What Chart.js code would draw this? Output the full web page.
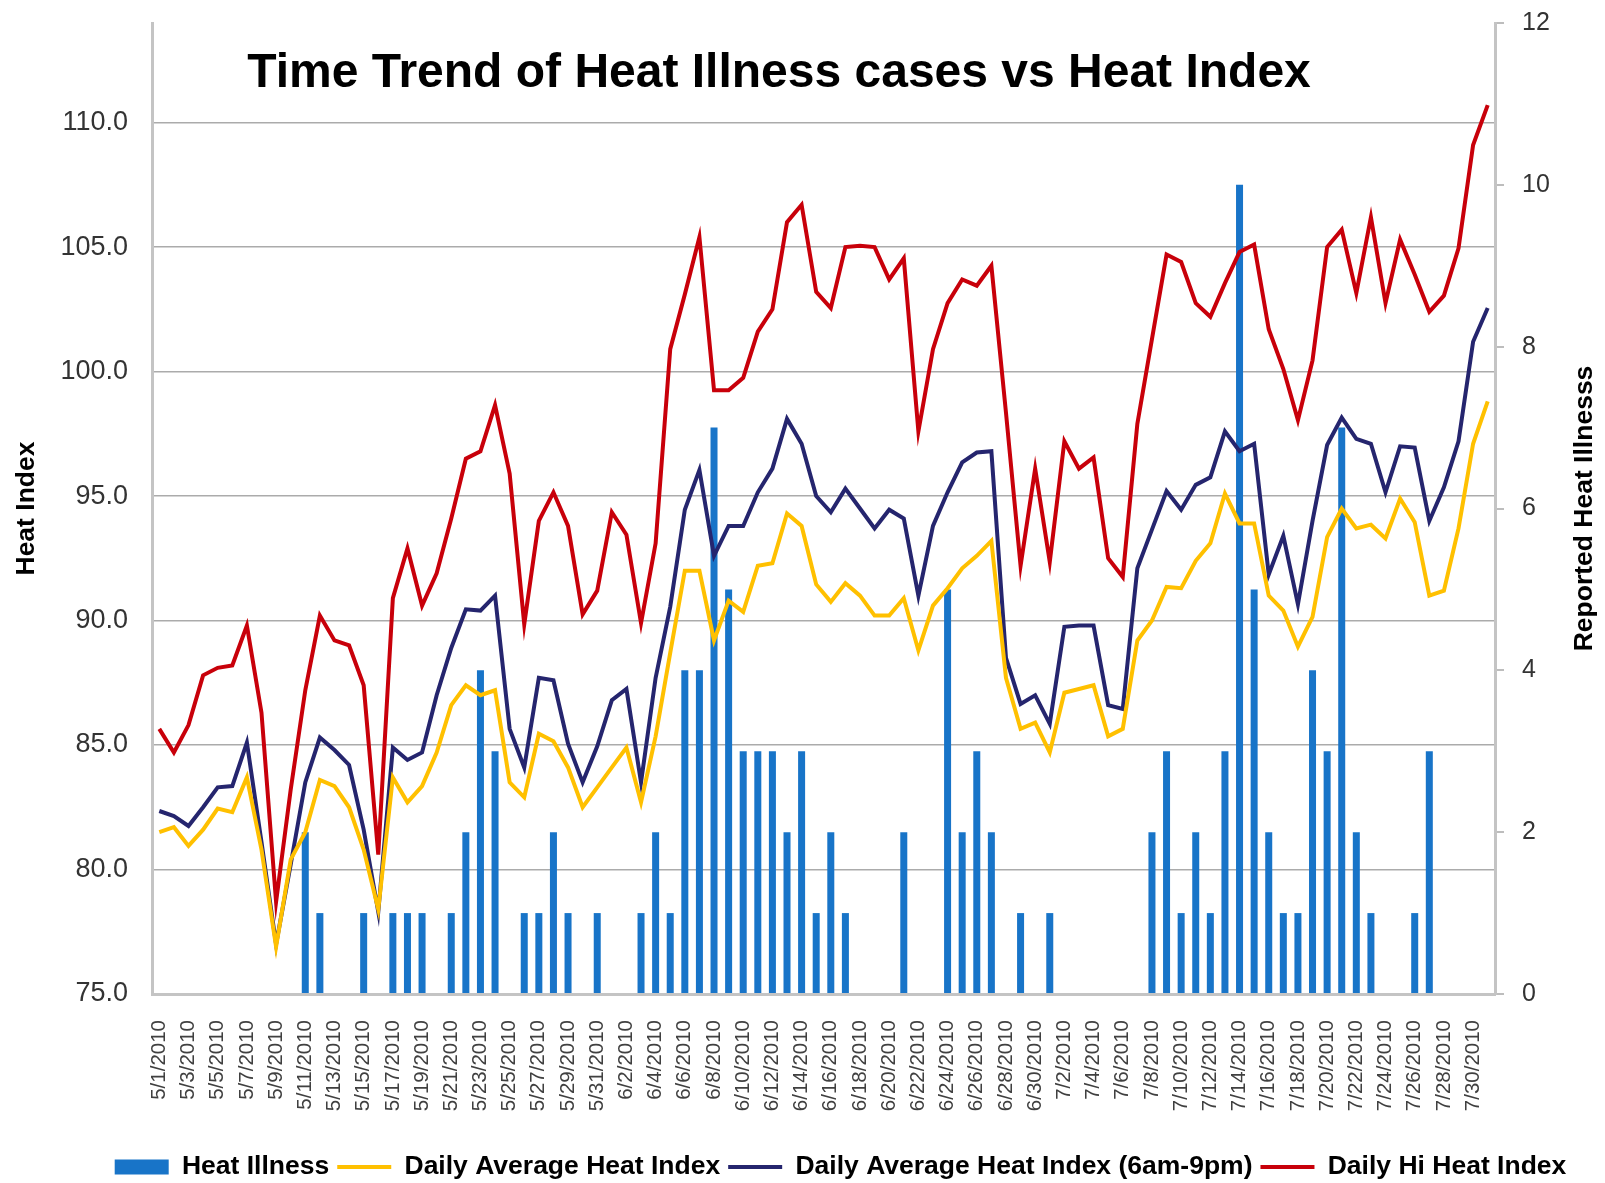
<!DOCTYPE html>
<html>
<head>
<meta charset="utf-8">
<script src="https://cdn.jsdelivr.net/npm/chart.js@4.4.1/dist/chart.umd.min.js"></script>
<style>
html,body{margin:0;padding:0;background:#fff;}
#wrap{width:1605px;height:1183px;position:relative;}
</style>
</head>
<body>
<div id="wrap"><canvas id="c" width="1605" height="1183"></canvas></div>
<script>
// ---------- data ----------
const dates = [
'5/1/2010','5/2/2010','5/3/2010','5/4/2010','5/5/2010','5/6/2010','5/7/2010','5/8/2010','5/9/2010','5/10/2010',
'5/11/2010','5/12/2010','5/13/2010','5/14/2010','5/15/2010','5/16/2010','5/17/2010','5/18/2010','5/19/2010','5/20/2010',
'5/21/2010','5/22/2010','5/23/2010','5/24/2010','5/25/2010','5/26/2010','5/27/2010','5/28/2010','5/29/2010','5/30/2010',
'5/31/2010','6/1/2010','6/2/2010','6/3/2010','6/4/2010','6/5/2010','6/6/2010','6/7/2010','6/8/2010','6/9/2010',
'6/10/2010','6/11/2010','6/12/2010','6/13/2010','6/14/2010','6/15/2010','6/16/2010','6/17/2010','6/18/2010','6/19/2010',
'6/20/2010','6/21/2010','6/22/2010','6/23/2010','6/24/2010','6/25/2010','6/26/2010','6/27/2010','6/28/2010','6/29/2010',
'6/30/2010','7/1/2010','7/2/2010','7/3/2010','7/4/2010','7/5/2010','7/6/2010','7/7/2010','7/8/2010','7/9/2010',
'7/10/2010','7/11/2010','7/12/2010','7/13/2010','7/14/2010','7/15/2010','7/16/2010','7/17/2010','7/18/2010','7/19/2010',
'7/20/2010','7/21/2010','7/22/2010','7/23/2010','7/24/2010','7/25/2010','7/26/2010','7/27/2010','7/28/2010','7/29/2010',
'7/30/2010','7/31/2010'
];

const heatIllness = [
0,0,0,0,0,0,0,0,0,0,
2,1,0,0,1,0,1,1,1,0,
1,2,4,3,0,1,1,2,1,0,
1,0,0,1,2,1,4,4,7,5,
3,3,3,2,3,1,2,1,0,0,
0,2,0,0,5,2,3,2,0,1,
0,1,0,0,0,0,0,0,2,3,
1,2,1,3,10,5,2,1,1,4,
3,7,2,1,0,0,1,3,0,0,
0,0
];

const dailyAvg = [
81.5,81.7,80.95,81.6,82.45,82.3,83.7,80.8,76.9,80.4,
81.5,83.6,83.35,82.5,80.8,78.4,83.7,82.7,83.35,84.7,
86.6,87.4,87.0,87.2,83.5,82.9,85.45,85.15,84.1,82.5,
83.3,84.1,84.9,82.7,85.35,88.7,92.0,92.0,89.2,90.8,
90.35,92.2,92.3,94.3,93.8,91.45,90.75,91.5,91.0,90.2,
90.2,90.9,88.8,90.6,91.3,92.1,92.6,93.2,87.7,85.65,
85.9,84.7,87.1,87.25,87.4,85.35,85.65,89.2,90.0,91.35,
91.3,92.4,93.1,95.1,93.9,93.9,91.0,90.4,88.95,90.15,
93.35,94.5,93.7,93.85,93.3,94.9,93.95,91.0,91.2,93.7,
97.1,98.8
];

const dailyAvg6to9 = [
82.35,82.15,81.75,82.5,83.3,83.35,85.1,81.1,77.0,80.2,
83.5,85.3,84.8,84.2,81.6,78.3,84.9,84.4,84.7,87.0,
88.9,90.45,90.4,91.0,85.65,84.1,87.7,87.6,85.05,83.5,
84.95,86.8,87.25,83.5,87.7,90.55,94.45,96.05,92.6,93.8,
93.8,95.15,96.1,98.1,97.1,95.0,94.35,95.3,94.5,93.7,
94.45,94.1,91.0,93.8,95.15,96.35,96.75,96.8,88.5,86.65,
87.0,85.85,89.75,89.8,89.8,86.6,86.45,92.1,93.65,95.2,
94.45,95.45,95.75,97.6,96.8,97.1,91.85,93.4,90.65,94.0,
97.05,98.15,97.3,97.1,95.15,97.0,96.95,94.0,95.35,97.2,
101.2,102.55
];

const dailyHi = [
85.65,84.7,85.8,87.8,88.1,88.2,89.8,86.3,78.7,83.2,
87.2,90.2,89.2,89.0,87.4,80.6,90.9,92.9,90.6,91.9,
94.1,96.5,96.8,98.65,95.9,89.85,94.0,95.15,93.8,90.25,
91.2,94.35,93.45,89.9,93.1,100.9,103.1,105.4,99.25,99.25,
99.75,101.6,102.5,106.0,106.7,103.2,102.55,105.0,105.05,105.0,
103.7,104.55,97.6,100.9,102.75,103.7,103.45,104.25,98.35,92.2,
96.1,92.35,97.2,96.1,96.55,92.5,91.75,97.9,101.3,104.7,
104.4,102.75,102.2,103.55,104.8,105.1,101.7,100.1,98.05,100.45,
105.0,105.7,103.15,106.2,102.75,105.3,103.9,102.4,103.05,104.95,
109.1,110.7
];

const leftTicks = [75, 80, 85, 90, 95, 100, 105, 110];
const rightTicks = [0, 2, 4, 6, 8, 10, 12];

const seriesNames = ['Heat Illness', 'Daily Average Heat Index', 'Daily Average Heat Index (6am-9pm)', 'Daily Hi Heat Index'];
const chartTitle = 'Time Trend of Heat Illness cases vs Heat Index';
const leftAxisTitle = 'Heat Index';
const rightAxisTitle = 'Reported Heat Illnesss';

// ---------- chart ----------
const FONT = "'Liberation Sans', Arial, Helvetica, sans-serif";
Chart.defaults.font.family = FONT;

const overlayText = {
  id: 'overlayText',
  afterDraw(chart) {
    const {ctx, chartArea} = chart;
    ctx.save();
    ctx.fillStyle = '#000';
    ctx.font = 'bold 48px ' + FONT;
    ctx.textAlign = 'center';
    ctx.textBaseline = 'alphabetic';
    ctx.fillText(chartTitle, 779, 87);
    const midY = (chartArea.top + chartArea.bottom) / 2;
    ctx.font = 'bold 26.5px ' + FONT;
    ctx.textBaseline = 'middle';
    [[leftAxisTitle, 27], [rightAxisTitle, 1585]].forEach(([t, x]) => {
      ctx.save();
      ctx.translate(x, midY);
      ctx.rotate(-Math.PI / 2);
      ctx.fillText(t, 0, 0);
      ctx.restore();
    });
    ctx.restore();
  }
};

function noPad(scale) {
  scale.paddingTop = 0;
  scale.paddingBottom = 0;
  scale.paddingLeft = 0;
  scale.paddingRight = 0;
}

new Chart(document.getElementById('c'), {
  data: {
    labels: dates,
    datasets: [
      {
        type: 'bar', label: seriesNames[0], data: heatIllness, yAxisID: 'y1',
        backgroundColor: '#1874c8', borderWidth: 0,
        barPercentage: 0.48, categoryPercentage: 1.0, order: 1
      },
      {
        type: 'line', label: seriesNames[1], data: dailyAvg, yAxisID: 'y',
        borderColor: '#FFC000', backgroundColor: '#FFC000', borderWidth: 4,
        pointRadius: 0, tension: 0, order: 0
      },
      {
        type: 'line', label: seriesNames[2], data: dailyAvg6to9, yAxisID: 'y',
        borderColor: '#25256e', backgroundColor: '#25256e', borderWidth: 4,
        pointRadius: 0, tension: 0, order: 0
      },
      {
        type: 'line', label: seriesNames[3], data: dailyHi, yAxisID: 'y',
        borderColor: '#c8000a', backgroundColor: '#c8000a', borderWidth: 4,
        pointRadius: 0, tension: 0, order: 0
      }
    ]
  },
  options: {
    responsive: false,
    animation: false,
    layout: { autoPadding: false, padding: { left: 0, right: -76, top: 23, bottom: -7.25 } },
    plugins: {
      title: { display: false },
      tooltip: { enabled: false },
      legend: {
        position: 'bottom',
        labels: {
          usePointStyle: true,
          pointStyleWidth: 54,
          boxHeight: 15,
          padding: 8,
          color: '#000',
          font: { size: 26.5, weight: 'bold', family: FONT },
          sort: (a, b) => a.datasetIndex - b.datasetIndex,
          generateLabels(chart) {
            const items = Chart.defaults.plugins.legend.labels.generateLabels(chart);
            items.forEach(it => {
              const ds = chart.data.datasets[it.datasetIndex];
              if (ds.type === 'bar') {
                it.pointStyle = 'rect';
                it.lineWidth = 0;
                it.fillStyle = ds.backgroundColor;
              } else {
                it.pointStyle = 'line';
                it.lineWidth = 4;
                it.strokeStyle = ds.borderColor;
              }
            });
            return items;
          }
        }
      }
    },
    scales: {
      x: {
        type: 'category',
        offset: true,
        grid: { display: false, drawTicks: false },
        border: { display: true, color: '#c4c4c4', width: 3 },
        ticks: {
          autoSkip: false,
          maxRotation: 90,
          minRotation: 90,
          padding: 26,
          color: '#404040',
          font: { size: 20.5 },
          callback: function (v, i) { return i % 2 === 0 ? this.getLabelForValue(v) : null; }
        },
        afterFit(scale) { scale.height = 151.75; noPad(scale); }
      },
      y: {
        type: 'linear',
        position: 'left',
        min: 75, max: 114,
        grid: { color: '#ababab', lineWidth: 1.5, drawTicks: false },
        border: { display: true, color: '#c4c4c4', width: 3 },
        ticks: {
          stepSize: 5,
          padding: 24,
          color: '#333',
          font: { size: 27 },
          callback: (v) => leftTicks.includes(v) ? v.toFixed(1) : null
        },
        afterFit(scale) { scale.width = 152; noPad(scale); }
      },
      y1: {
        type: 'linear',
        position: 'right',
        min: 0, max: 12,
        grid: { drawOnChartArea: false, drawTicks: true, tickLength: 9, color: '#bdbdbd', lineWidth: 2 },
        border: { display: true, color: '#c4c4c4', width: 3 },
        ticks: {
          stepSize: 2,
          padding: 18,
          crossAlign: 'near',
          color: '#333',
          font: { size: 25 },
          callback: (v) => rightTicks.includes(v) ? String(v) : null
        },
        afterFit(scale) { scale.width = 186; noPad(scale); }
      }
    }
  },
  plugins: [overlayText]
});
</script>
</body>
</html>
